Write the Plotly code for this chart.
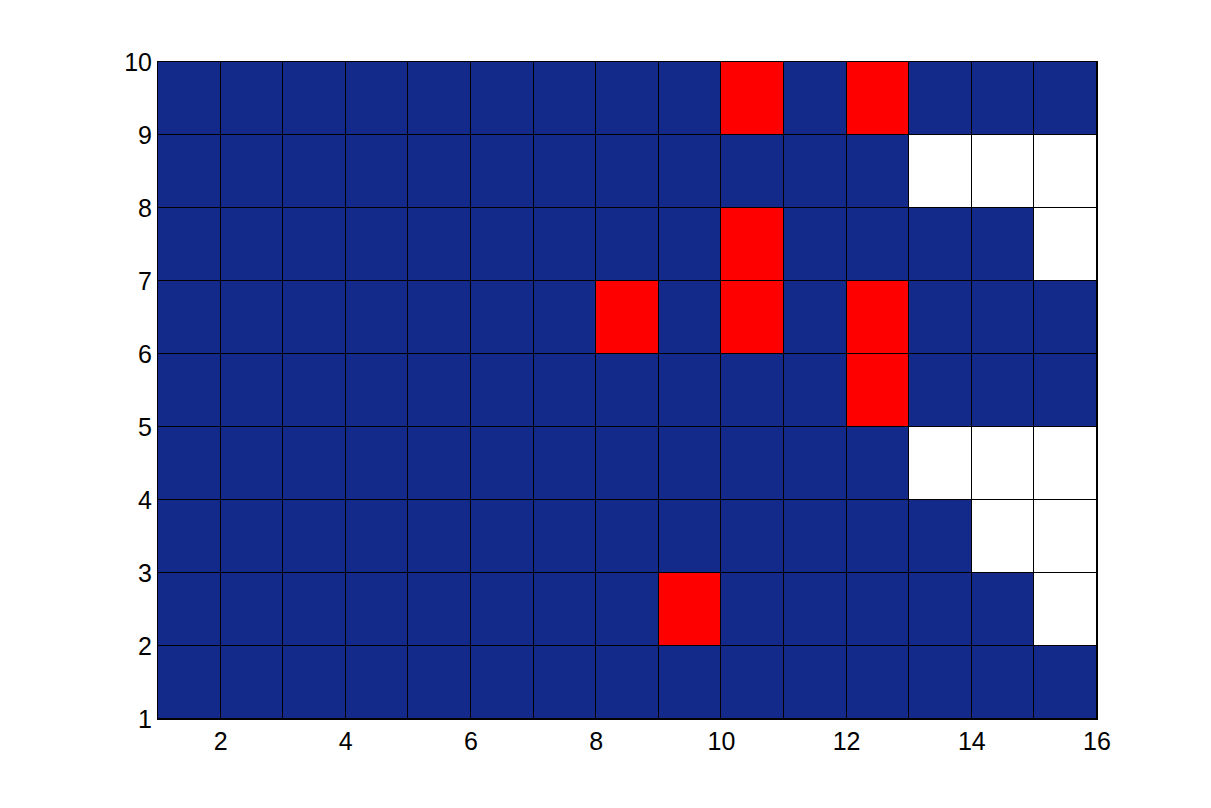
import plotly.graph_objects as go

# cell edges
x_edges = list(range(1, 17))   # 15 columns
y_edges = list(range(1, 11))   # 9 rows

# 0 = blue, 1 = red, 2 = white ; rows from y=1 (bottom) to y=9 (top)
grid = [
    [0,0,0,0,0,0,0,0,0,0,0,0,0,0,0],  # row 1
    [0,0,0,0,0,0,0,0,1,0,0,0,0,0,2],  # row 2
    [0,0,0,0,0,0,0,0,0,0,0,0,0,2,2],  # row 3
    [0,0,0,0,0,0,0,0,0,0,0,0,2,2,2],  # row 4
    [0,0,0,0,0,0,0,0,0,0,0,1,0,0,0],  # row 5
    [0,0,0,0,0,0,0,1,0,1,0,1,0,0,0],  # row 6
    [0,0,0,0,0,0,0,0,0,1,0,0,0,0,2],  # row 7
    [0,0,0,0,0,0,0,0,0,0,0,0,2,2,2],  # row 8
    [0,0,0,0,0,0,0,0,0,1,0,1,0,0,0],  # row 9
]

x_ticks = [2, 4, 6, 8, 10, 12, 14, 16]
y_ticks = list(range(1, 11))

blue = "rgb(20,42,138)"
red = "rgb(255,0,0)"
white = "rgb(255,255,255)"
colorscale = [
    [0.0, blue], [1/3, blue],
    [1/3, red], [2/3, red],
    [2/3, white], [1.0, white],
]

fig = go.Figure(go.Heatmap(
    x=x_edges, y=y_edges, z=grid,
    zmin=-0.5, zmax=2.5,
    colorscale=colorscale, showscale=False,
    xgap=1, ygap=1, hoverinfo="skip",
))

font = dict(family="Liberation Sans, Arial, sans-serif", size=25, color="black")
axis_common = dict(
    showgrid=False, zeroline=False, showline=True, linecolor="black",
    linewidth=1, mirror=True, ticks="", tickfont=font,
)
fig.update_xaxes(range=[1, 16], tickvals=x_ticks, **axis_common)
fig.update_yaxes(range=[1, 10], tickvals=y_ticks, **axis_common)

fig.update_layout(
    width=1211, height=808,
    margin=dict(l=150, r=122, t=54, b=97, autoexpand=False),
    plot_bgcolor="black", paper_bgcolor="white",
    font=font,
)
fig.write_html("out.html")
